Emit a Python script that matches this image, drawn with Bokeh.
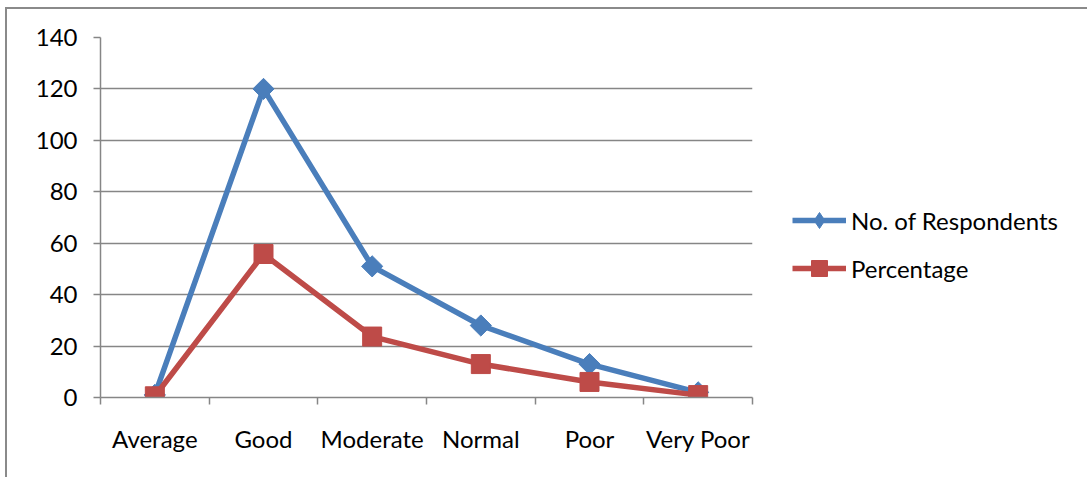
import numpy as np
from bokeh.plotting import figure
from bokeh.models import (ColumnDataSource, FixedTicker, Legend, LegendItem, Range1d)
from bokeh.embed import file_html
from bokeh.resources import INLINE

categories = ["Average", "Good", "Moderate", "Normal", "Poor", "Very Poor"]
respondents = [1, 120, 51, 28, 13, 2]
percentage = [0.47, 55.8, 23.7, 13.0, 6.05, 0.93]
y_ticks = [0, 20, 40, 60, 80, 100, 120, 140]

FONT = "Lato"
BLUE = "#4A7EBB"
RED = "#BE4B48"
GRID = "#868686"

xpos = [i + 0.5 for i in range(len(categories))]
src = ColumnDataSource(dict(x=xpos, cat=categories, resp=respondents, pct=percentage))

p = figure(frame_width=652, frame_height=360, output_backend="svg", toolbar_location=None,
           x_range=Range1d(0, len(categories)), y_range=Range1d(0, 140),
           min_border_left=93, min_border_right=330, min_border_top=28, min_border_bottom=80,
           margin=(7, 0, 0, 5),
           styles={"border-left": "2px solid #8a8a8a", "border-top": "2px solid #8a8a8a"})
p.outline_line_color = None
p.background_fill_color = "white"
p.border_fill_color = "white"

# y axis
p.yaxis.ticker = FixedTicker(ticks=y_ticks)
p.yaxis.axis_line_color = GRID
p.yaxis.axis_line_width = 1.5
p.yaxis.major_tick_line_color = GRID
p.yaxis.major_tick_line_width = 1.5
p.yaxis.major_tick_out = 7
p.yaxis.major_tick_in = 0
p.yaxis.minor_tick_line_color = None
p.yaxis.major_label_standoff = 16
p.yaxis.major_label_text_font = FONT
p.yaxis.major_label_text_font_size = "24px"
p.yaxis.major_label_text_color = "black"

# x axis
p.xaxis.ticker = FixedTicker(ticks=xpos, minor_ticks=list(range(len(categories) + 1)))
p.xaxis.major_label_overrides = {x: c for x, c in zip(xpos, categories)}
p.xaxis.axis_line_color = GRID
p.xaxis.axis_line_width = 1.5
p.xaxis.major_tick_line_color = None
p.xaxis.major_tick_out = 0
p.xaxis.major_tick_in = 0
p.xaxis.minor_tick_line_color = GRID
p.xaxis.minor_tick_line_width = 1.5
p.xaxis.minor_tick_out = 7
p.xaxis.minor_tick_in = 0
p.xaxis.major_label_standoff = 19
p.xaxis.major_label_text_font = FONT
p.xaxis.major_label_text_font_size = "24px"
p.xaxis.major_label_text_color = "black"

p.xgrid.grid_line_color = None
p.ygrid.grid_line_color = GRID
p.ygrid.grid_line_width = 1.5

l1 = p.line("x", "resp", source=src, line_color=BLUE, line_width=5.5, line_join="round")
# diamond marker (used for the legend swatch), covered by the rotated square below
d1 = p.scatter("x", "resp", source=src, marker="diamond", size=12,
               fill_color=BLUE, line_color=BLUE)
m1 = p.scatter("x", "resp", source=src, marker="square", angle=np.pi / 4, size=15,
               fill_color=BLUE, line_color=BLUE)
l2 = p.line("x", "pct", source=src, line_color=RED, line_width=5.5, line_join="round")
m2 = p.scatter("x", "pct", source=src, marker="square", size=19,
               fill_color=RED, line_color=RED)

legend = Legend(items=[LegendItem(label="No. of Respondents", renderers=[l1, d1]),
                       LegendItem(label="Percentage", renderers=[l2, m2])],
                location=(40, 109), orientation="vertical",
                glyph_width=54, glyph_height=40, spacing=8, padding=0, margin=0,
                label_standoff=5, label_text_font=FONT, label_text_font_size="24px",
                label_text_color="black", border_line_color=None,
                background_fill_alpha=0)
p.add_layout(legend, "right")

open("out.html", "w").write(file_html(p, INLINE))
